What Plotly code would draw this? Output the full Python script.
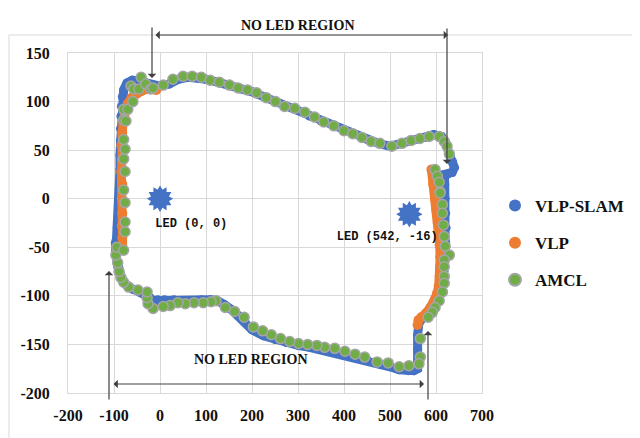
import plotly.graph_objects as go

# ---------------- data ----------------
slam_x = [-95, -93, -90, -89, -88, -87, -87, -86, -86, -85, -84, -82, -79, -72, -60, -45, -30, -15, 0, 20,
          40, 60, 80, 100, 125, 150, 175, 200, 225, 250, 275, 300, 325, 350, 375, 400, 425, 450, 475, 500,
          525, 550, 575, 595, 612, 622, 628, 636, 640, 635, 625, 618, 619, 620, 621, 622, 621, 620, 617, 611,
          602, 588, 574, 563, 560, 560, 561, 560, 552, 540, 520, 500, 475, 450, 425, 400, 375, 350, 325, 300,
          275, 250, 225, 200, 185, 170, 155, 140, 125, 110, 90, 70, 50, 30, 10, -5, -15, -22, -30, -45,
          -60, -75, -85, -92, -96, -97]
slam_y = [-45, -30, -15, 0, 15, 30, 45, 60, 72, 85, 95, 105, 112, 119, 122, 121, 119, 117, 116, 118,
          123, 125, 125, 123, 120, 117, 113, 110, 105, 100, 95, 91, 85, 80, 75, 70, 66, 61, 57, 54,
          57, 60, 63, 66, 64, 57, 47, 38, 32, 27, 25, 25, 15, 0, -15, -30, -45, -60, -75, -90,
          -102, -112, -120, -128, -140, -155, -168, -175, -177, -177, -176, -173, -170, -166, -163, -160, -157, -155, -153, -151,
          -148, -145, -141, -135, -127, -120, -114, -109, -105, -104, -104, -105, -105, -104, -104, -104, -105, -102, -99, -96,
          -93, -88, -80, -70, -58, -45]

vlp_left_x = [-81, -82, -83, -82, -83, -82, -84, -83, -84, -82, -80, -76, -70, -62, -52, -40, -28, -16, -8]
vlp_left_y = [-52, -40, -28, -15, 0, 15, 28, 40, 55, 68, 80, 90, 98, 104, 108, 111, 113, 113, 112]
vlp_right_x = [590, 594, 598, 601, 604, 606, 608, 609, 609, 608, 606, 602, 596, 588, 578, 568, 562, 560]
vlp_right_y = [30, 15, 0, -12, -25, -35, -48, -60, -70, -80, -90, -98, -106, -112, -118, -122, -125, -130]

amcl_x = [-76, -76, -79, -76, -79, -76, -79, -79, -79, -74, -70, -59, -63, -57, -46, -41, -31, -20, -15, 7,
          28, 50, 70, 90, 109, 129, 151, 170, 190, 210, 231, 251, 271, 293, 315, 336, 356, 378, 400, 419,
          439, 459, 478, 504, 526, 546, 565, 585, 607, 618, 624, 629, 598, 603, 607, 609, 609, 614, 614, 616,
          618, 620, 629, 618, 618, 618, 618, 614, 607, 598, 592, 583, 566, 566, 563, 541, 520, 496, 472, 445,
          424, 402, 380, 358, 341, 321, 301, 282, 262, 242, 223, 203, 183, 162, 142, 122, 111, 94, 74, 55,
          39, 22, 7, -15, -26, -28, -28, -48, -68, -79, -85, -89, -92, -96, -94, -79, -76]
amcl_y = [-24, -4, 9, 28, 41, 51, 61, 81, 92, 80, 92, 100, 116, 113, 113, 125, 118, 113, 114, 117,
          123, 126, 126, 125, 122, 120, 117, 114, 112, 109, 104, 100, 95, 93, 89, 84, 79, 75, 70, 67,
          63, 59, 57, 54, 57, 60, 62, 64, 64, 59, 54, 46, 30, 23, 17, 7, 6, -6, -15, -27,
          -39, -49, -58, -63, -70, -80, -87, -96, -105, -112, -117, -122, -144, -163, -170, -172, -173, -169, -168, -163,
          -160, -157, -154, -153, -151, -150, -149, -147, -144, -140, -136, -132, -122, -116, -112, -105, -106, -107, -107, -108,
          -107, -110, -111, -113, -108, -102, -96, -94, -91, -86, -81, -75, -66, -58, -50, -53, -34]

led_x = [0, 542]
led_y = [0, -16]
led_labels = ["LED (0, 0)", "LED (542, -16)"]
led_label_x = [68, 494]
led_label_y = [-26, -39]

x_ticks = [-200, -100, 0, 100, 200, 300, 400, 500, 600, 700]
y_ticks = [-200, -150, -100, -50, 0, 50, 100, 150]

BLUE = "#4472C4"
ORANGE = "#ED7D31"
GREEN = "#70AD47"
GRAY = "#A5A5A5"
SERIF = "Times New Roman, Liberation Serif, serif"

fig = go.Figure()

# VLP-SLAM: thick band + markers
fig.add_trace(go.Scatter(x=slam_x, y=slam_y, mode="lines", line=dict(color=BLUE, width=9),
                         showlegend=False, hoverinfo="skip"))
fig.add_trace(go.Scatter(x=slam_x, y=slam_y, mode="markers", name="VLP-SLAM", legendgroup="a",
                         marker=dict(color=BLUE, size=9)))
# VLP
fig.add_trace(go.Scatter(x=vlp_left_x, y=vlp_left_y, mode="lines", line=dict(color=ORANGE, width=9),
                         showlegend=False, hoverinfo="skip"))
fig.add_trace(go.Scatter(x=vlp_right_x, y=vlp_right_y, mode="lines", line=dict(color=ORANGE, width=9),
                         showlegend=False, hoverinfo="skip"))
fig.add_trace(go.Scatter(x=vlp_left_x + vlp_right_x, y=vlp_left_y + vlp_right_y, mode="markers", name="VLP",
                         legendgroup="b", marker=dict(color=ORANGE, size=10)))
# AMCL
fig.add_trace(go.Scatter(x=amcl_x, y=amcl_y, mode="markers", name="AMCL", legendgroup="c",
                         marker=dict(color=GREEN, size=10, line=dict(color=GRAY, width=1.5))))

# LED stars
for ang in (0, 30):
    fig.add_trace(go.Scatter(x=led_x, y=led_y, mode="markers", showlegend=False, hoverinfo="skip",
                             marker=dict(symbol="hexagram", size=20, angle=ang, color=BLUE,
                                         line=dict(width=0))))
fig.add_trace(go.Scatter(x=led_label_x, y=led_label_y, mode="text", text=led_labels, showlegend=False,
                         textfont=dict(family="Liberation Mono, monospace", size=12, color="#111111",
                                       weight="bold"),
                         hoverinfo="skip"))

# the page body adds an 8px offset; the figure is sized to fill the rest of the window
OFF = 8
W, H = 640 - OFF, 438 - OFF
L, T, PW, PH = 68 - OFF, 53 - OFF, 414, 340


def px(x):
    return (x - OFF - L) / PW


def py(y):
    return (T + PH - (y - OFF)) / PH


shapes = [
    dict(type="line", xref="paper", yref="paper", x0=px(9), x1=px(9), y0=py(35), y1=py(440),
         line=dict(color="#D9D9D9", width=1)),
    dict(type="line", xref="paper", yref="paper", x0=px(9), x1=px(645), y0=py(35), y1=py(35),
         line=dict(color="#D9D9D9", width=1)),
]

ARROW = "#404040"
annotations = [
    dict(text="<b>NO LED REGION</b>", xref="paper", yref="paper", x=px(298), y=py(16), showarrow=False,
         font=dict(family=SERIF, size=14, color="#111111")),
    dict(text="<b>NO LED REGION</b>", xref="paper", yref="paper", x=px(251), y=py(369), showarrow=False,
         font=dict(family=SERIF, size=14, color="#111111")),
]


def arrow(x0, y0, x1, y1, both=False):
    annotations.append(dict(text="", xref="paper", yref="paper", x=px(x1), y=py(y1),
                            axref="pixel", ayref="pixel", ax=x0 - x1, ay=y0 - y1,
                            showarrow=True, arrowhead=1, arrowsize=1.2, arrowwidth=1.2,
                            arrowcolor=ARROW, arrowside="end+start" if both else "end",
                            startarrowhead=1, startarrowsize=1.2))


arrow(154, 35, 448, 35, both=True)
arrow(152, 26, 152, 78)
arrow(447, 27, 447, 164)
arrow(112, 384, 424, 384, both=True)
arrow(109, 401, 109, 271)
arrow(428, 401, 428, 331)

fig.update_layout(
    width=W, height=H,
    margin=dict(l=L, r=W - L - PW, t=T, b=H - T - PH, pad=0, autoexpand=False),
    paper_bgcolor="white", plot_bgcolor="white",
    shapes=shapes, annotations=annotations,
    legend=dict(x=px(495), y=py(188), xanchor="left", yanchor="top",
                font=dict(family=SERIF, size=17, color="#111111", weight="bold"),
                itemsizing="constant", tracegroupgap=12, bgcolor="rgba(0,0,0,0)"),
    showlegend=True,
)
fig.update_xaxes(range=[-200, 700], tickvals=x_ticks, ticktext=[str(v) for v in x_ticks],
                 showgrid=True, gridcolor="#D9D9D9", gridwidth=1, zeroline=False, automargin=False,
                 showline=True, mirror=True, linecolor="#D9D9D9", ticks="", ticklabelstandoff=8,
                 tickfont=dict(family=SERIF, size=16, color="#111111", weight="bold"))
fig.update_yaxes(range=[-200, 150], tickvals=y_ticks, ticktext=[str(v) for v in y_ticks],
                 showgrid=True, gridcolor="#D9D9D9", gridwidth=1, zeroline=False, automargin=False,
                 showline=True, mirror=True, linecolor="#D9D9D9", ticks="", ticklabelstandoff=14,
                 tickfont=dict(family=SERIF, size=16, color="#111111", weight="bold"))

fig.write_html("out.html")
